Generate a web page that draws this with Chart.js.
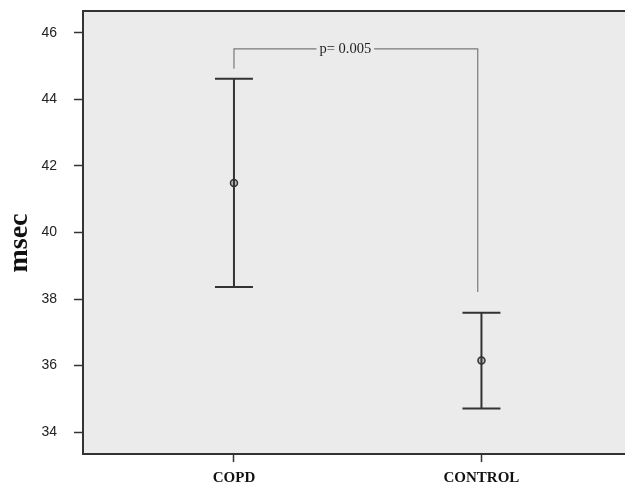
<!DOCTYPE html>
<html>
<head>
<meta charset="utf-8">
<script src="https://cdn.jsdelivr.net/npm/chart.js@4"></script>
<style>
  html, body { margin: 0; padding: 0; background: #fff; }
  #wrap { width: 625px; height: 488px; }
</style>
</head>
<body>
<div id="wrap"><canvas id="chart"></canvas></div>
<script>
// groups and their position on the x axis
const categories = ["COPD", "CONTROL"];
const positions = [1, 2];
// mean and 95% CI (msec)
const means = [41.49, 36.15];
const upper = [44.62, 37.59];
const lower = [38.36, 34.71];
const yTicks = [34, 36, 38, 40, 42, 44, 46];
const yTitle = "msec";
// significance bracket
const pLabel = "p= 0.005";
const bracketTop = 45.52;
const bracketEnds = [44.92, 38.21];
const bracketX = [1, 1.985];
const pLabelX = 1.45;

const axisColor = "#333";

const errorBars = {
  id: "errorBars",
  beforeDraw(chart) {
    const { ctx, chartArea: a } = chart;
    ctx.save();
    ctx.fillStyle = "#ebebeb";
    ctx.fillRect(a.left, a.top, a.right - a.left, a.bottom - a.top);
    ctx.restore();
  },
  afterDatasetsDraw(chart) {
    const { ctx, chartArea: a } = chart;
    const x = chart.scales.x, y = chart.scales.y;
    ctx.save();
    // top frame line
    ctx.strokeStyle = axisColor;
    ctx.lineWidth = 2;
    ctx.beginPath();
    ctx.moveTo(a.left, a.top);
    ctx.lineTo(a.right, a.top);
    ctx.stroke();

    // error bars
    ctx.lineWidth = 2;
    positions.forEach((p, i) => {
      const px = x.getPixelForValue(p);
      const yu = y.getPixelForValue(upper[i]);
      const yl = y.getPixelForValue(lower[i]);
      ctx.beginPath();
      ctx.moveTo(px, yu); ctx.lineTo(px, yl);
      ctx.moveTo(px - 19, yu); ctx.lineTo(px + 19, yu);
      ctx.moveTo(px - 19, yl); ctx.lineTo(px + 19, yl);
      ctx.stroke();
    });

    // bracket
    const bx0 = x.getPixelForValue(bracketX[0]);
    const bx1 = x.getPixelForValue(bracketX[1]);
    const by = y.getPixelForValue(bracketTop);
    ctx.strokeStyle = "#7a7a7a";
    ctx.lineWidth = 1.2;
    ctx.beginPath();
    ctx.moveTo(bx0, y.getPixelForValue(bracketEnds[0]));
    ctx.lineTo(bx0, by);
    ctx.lineTo(bx1, by);
    ctx.lineTo(bx1, y.getPixelForValue(bracketEnds[1]));
    ctx.stroke();

    ctx.font = "14.5px 'Liberation Serif', serif";
    const tx = x.getPixelForValue(pLabelX);
    const tw = ctx.measureText(pLabel).width;
    ctx.fillStyle = "#ebebeb";
    ctx.fillRect(tx - tw / 2 - 3, by - 8, tw + 6, 16);
    ctx.fillStyle = "#222";
    ctx.textAlign = "center";
    ctx.textBaseline = "middle";
    ctx.fillText(pLabel, tx, by);

    // y axis title
    ctx.translate(20, 243);
    ctx.rotate(-Math.PI / 2);
    ctx.font = "bold 28px 'Liberation Serif', serif";
    ctx.fillStyle = "#111";
    ctx.fillText(yTitle, 0, 0);
    ctx.restore();
  }
};

new Chart(document.getElementById("chart"), {
  type: "scatter",
  data: {
    datasets: [{
      data: positions.map((p, i) => ({ x: p, y: means[i] })),
      pointStyle: "circle",
      pointRadius: 3.5,
      pointBorderWidth: 1.5,
      pointBorderColor: "#333",
      pointBackgroundColor: "#bbb"
    }]
  },
  options: {
    responsive: true,
    maintainAspectRatio: false,
    animation: false,
    layout: { autoPadding: false, padding: { top: 11, right: 0, left: 0, bottom: 0 } },
    plugins: { legend: { display: false }, tooltip: { enabled: false } },
    scales: {
      x: {
        type: "linear",
        min: 0.39,
        max: 2.58,
        afterBuildTicks(s) { s.ticks = positions.map(v => ({ value: v })); },
        afterFit(s) { s.height = 34; s.paddingLeft = 0; s.paddingRight = 0; },
        ticks: {
          callback: (v) => categories[positions.indexOf(v)],
          font: { family: "'Liberation Serif', serif", size: 15, weight: "bold" },
          color: "#111",
          padding: 7,
          maxRotation: 0
        },
        grid: { drawOnChartArea: false, tickLength: 8, color: axisColor, tickWidth: 1.5 },
        border: { color: axisColor, width: 2 }
      },
      y: {
        min: 33.34,
        max: 46.66,
        afterBuildTicks(s) { s.ticks = yTicks.map(v => ({ value: v })); },
        afterFit(s) { s.width = 83; s.paddingTop = 0; s.paddingBottom = 0; },
        ticks: {
          font: { family: "'Liberation Sans', Arial, sans-serif", size: 14 },
          color: "#222",
          padding: 17
        },
        grid: { drawOnChartArea: false, tickLength: 9, color: axisColor, tickWidth: 1.5 },
        border: { color: axisColor, width: 2 }
      }
    }
  },
  plugins: [errorBars]
});
</script>
</body>
</html>
